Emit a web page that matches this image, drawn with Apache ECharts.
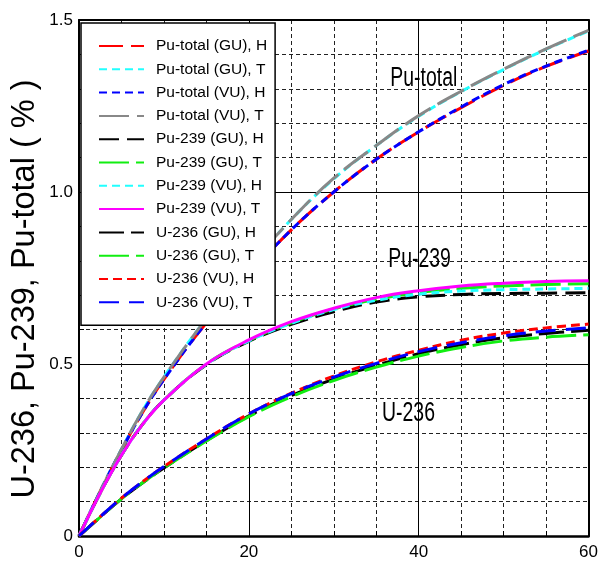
<!DOCTYPE html>
<html>
<head>
<meta charset="utf-8">
<script src="https://cdn.jsdelivr.net/npm/echarts@6/dist/echarts.min.js"></script>
<style>html,body{margin:0;padding:0;background:#fff}#c{width:601px;height:567px}</style>
</head>
<body>
<div id="c"></div>
<script>
// ---- data ----
const xs = [0, 2.5, 5, 7.5, 10, 15, 20, 25, 30, 35, 40, 45, 50, 55, 60];
const xTickLabels = [0, 20, 40, 60];
const yTickLabels = [0, 0.5, 1.0, 1.5];

const puTotalGU_H = [0, 0.13, 0.25, 0.36, 0.455, 0.62, 0.76, 0.89, 1.0, 1.095, 1.175, 1.245, 1.31, 1.365, 1.41];
const puTotalGU_T = [0, 0.13, 0.252, 0.365, 0.462, 0.632, 0.782, 0.92, 1.038, 1.135, 1.22, 1.292, 1.356, 1.415, 1.468];
const puTotalVU_H = [0, 0.13, 0.25, 0.36, 0.455, 0.62, 0.76, 0.89, 1.0, 1.095, 1.175, 1.247, 1.312, 1.366, 1.412];
const puTotalVU_T = [0, 0.13, 0.252, 0.365, 0.462, 0.632, 0.783, 0.92, 1.04, 1.135, 1.222, 1.293, 1.357, 1.416, 1.47];

const pu239GU_H = [0, 0.125, 0.235, 0.325, 0.395, 0.498, 0.566, 0.615, 0.652, 0.68, 0.695, 0.702, 0.705, 0.706, 0.707];
const pu239GU_T = [0, 0.125, 0.235, 0.325, 0.395, 0.5, 0.568, 0.62, 0.66, 0.688, 0.708, 0.72, 0.727, 0.731, 0.733];
const pu239VU_H = [0, 0.125, 0.235, 0.325, 0.395, 0.499, 0.567, 0.618, 0.658, 0.685, 0.703, 0.712, 0.716, 0.718, 0.72];
const pu239VU_T = [0, 0.125, 0.235, 0.325, 0.395, 0.5, 0.57, 0.623, 0.662, 0.693, 0.713, 0.727, 0.735, 0.74, 0.742];

const u236GU_H = [0, 0.055, 0.108, 0.155, 0.198, 0.277, 0.349, 0.408, 0.456, 0.496, 0.53, 0.556, 0.576, 0.589, 0.598];
const u236GU_T = [0, 0.055, 0.108, 0.155, 0.198, 0.276, 0.347, 0.405, 0.452, 0.491, 0.523, 0.548, 0.567, 0.578, 0.585];
const u236VU_H = [0, 0.056, 0.11, 0.158, 0.202, 0.282, 0.355, 0.415, 0.465, 0.506, 0.54, 0.569, 0.59, 0.605, 0.616];
const u236VU_T = [0, 0.056, 0.11, 0.158, 0.202, 0.282, 0.355, 0.414, 0.462, 0.502, 0.536, 0.562, 0.582, 0.596, 0.605];

const seriesNames = ['Pu-total (GU), H','Pu-total (GU), T','Pu-total (VU), H','Pu-total (VU), T',
  'Pu-239 (GU), H','Pu-239 (GU), T','Pu-239 (VU), H','Pu-239 (VU), T',
  'U-236 (GU), H','U-236 (GU), T','U-236 (VU), H','U-236 (VU), T'];
const seriesValues = [puTotalGU_H, puTotalGU_T, puTotalVU_H, puTotalVU_T,
  pu239GU_H, pu239GU_T, pu239VU_H, pu239VU_T,
  u236GU_H, u236GU_T, u236VU_H, u236VU_T];

const annotations = [['Pu-total', 40.6, 1.33], ['Pu-239', 40.1, 0.805], ['U-236', 38.8, 0.357]];
const yAxisTitle = 'U-236, Pu-239, Pu-total ( % )';

// ---- styles ----
const styles = [
  {c:'#ff0000', d:[24,8]}, {c:'#22ffff', d:[8,5]}, {c:'#0000ff', d:[8,5]}, {c:'#888888', d:[30,8]},
  {c:'#000000', d:[20,8]}, {c:'#11ee11', d:[30,7]}, {c:'#22ffff', d:[8,5]}, {c:'#ff00ff', d:'solid'},
  {c:'#000000', d:[25,7]}, {c:'#11ee11', d:[30,7]}, {c:'#ff0000', d:[9,5]}, {c:'#0000ff', d:[20,10]}
];

const FONT = '"Liberation Sans", Arial, sans-serif';
const chart = echarts.init(document.getElementById('c'), null, {renderer:'canvas'});

const series = seriesNames.map((n, i) => ({
  name: n, type: 'line', xAxisIndex: 0, yAxisIndex: 0,
  data: xs.map((x, k) => [x, seriesValues[i][k]]),
  smooth: 0.4, symbol: 'none', showSymbol: false,
  lineStyle: {color: styles[i].c, width: 3, type: styles[i].d},
  itemStyle: {color: styles[i].c},
  z: 2
}));

chart.setOption({
  animation: false,
  backgroundColor: '#fff',
  grid: {left: 79, right: 11, top: 20, bottom: 31, containLabel: false},
  xAxis: [
    {type: 'value', position: 'bottom', min: 0, max: 60, interval: 5,
     axisLine: {show: true, onZero: false, lineStyle: {color: '#000', width: 2.5}},
     axisTick: {show: true, inside: true, length: 5, lineStyle: {color: '#000', width: 1}},
     axisLabel: {margin: 8, color: '#000', fontFamily: FONT, fontSize: 17,
       formatter: v => xTickLabels.some(t => Math.abs(t - v) < 1e-6) ? String(v) : ''},
     splitLine: {show: true, lineStyle: {color: '#222', width: 1, type: [4,3]}}},
    {type: 'value', position: 'top', min: 0, max: 60, interval: 20,
     axisLine: {show: true, onZero: false, lineStyle: {color: '#000', width: 2}},
     axisTick: {show: false}, axisLabel: {show: false},
     splitLine: {show: true, lineStyle: {color: '#000', width: 1, type: 'solid'}}}
  ],
  yAxis: [
    {type: 'value', position: 'left', min: 0, max: 1.5, interval: 0.1,
     axisLine: {show: true, onZero: false, lineStyle: {color: '#000', width: 2}},
     axisTick: {show: true, inside: true, length: 5, lineStyle: {color: '#000', width: 1}},
     axisLabel: {margin: 6, color: '#000', fontFamily: FONT, fontSize: 17,
       formatter: v => {
         const t = yTickLabels.find(t => Math.abs(t - v) < 1e-6);
         if (t === undefined) return '';
         return t === 0 ? '0' : t.toFixed(1);
       }},
     splitLine: {show: true, lineStyle: {color: '#222', width: 1, type: [4,3]}}},
    {type: 'value', position: 'right', min: 0, max: 1.5, interval: 0.5,
     axisLine: {show: true, onZero: false, lineStyle: {color: '#000', width: 2}},
     axisTick: {show: false}, axisLabel: {show: false},
     splitLine: {show: true, lineStyle: {color: '#000', width: 1, type: 'solid'}}}
  ],
  legend: {
    show: true, orient: 'vertical', left: 81, top: 23,
    backgroundColor: '#fff', borderColor: '#000', borderWidth: 1.5, borderRadius: 0,
    padding: [15, 8, 15, 17],
    itemWidth: 45, itemHeight: 16, itemGap: 7.3,
    itemStyle: {opacity: 0},
    textStyle: {fontFamily: FONT, fontSize: 15.5, color: '#000', lineHeight: 16, padding: [0,0,0,7]},
    data: seriesNames,
    z: 10
  },
  series: series
});

// annotations and y-axis title (text only)
const gfx = annotations.map(a => {
  const p = chart.convertToPixel({xAxisIndex: 0, yAxisIndex: 0}, [a[1], a[2]]);
  return {type: 'text', x: p[0], y: p[1], scaleX: 0.72, z: 20,
    style: {text: a[0], fontFamily: FONT, fontSize: 27,
      fill: '#000', align: 'center', verticalAlign: 'middle'}};
});
gfx.push({type: 'text', x: 25, y: 289, rotation: Math.PI/2, z: 20,
  style: {text: yAxisTitle, fontFamily: FONT, fontSize: 32.5,
    fill: '#000', align: 'center', verticalAlign: 'middle'}});
chart.setOption({graphic: gfx});
</script>
</body>
</html>
